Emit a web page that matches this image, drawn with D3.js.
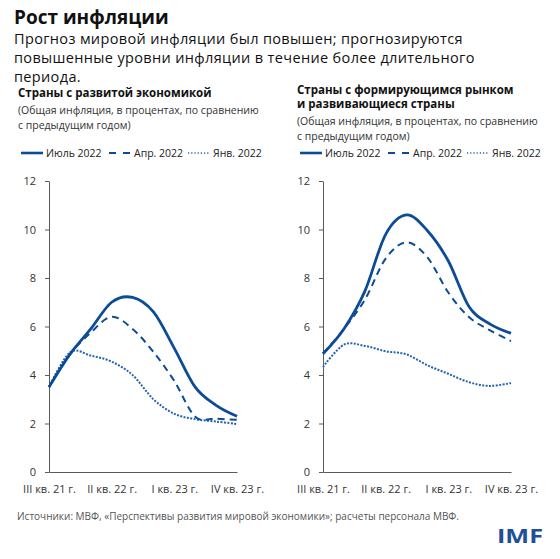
<!DOCTYPE html>
<html>
<head>
<meta charset="utf-8">
<script src="https://cdn.jsdelivr.net/npm/d3@7"></script>
<style>
  body { margin: 0; background: #fff; }
  text { font-family: "Open Sans", "Noto Sans", sans-serif; }
</style>
</head>
<body>
<div id="chart"></div>
<script>
// chart data
var quarters = ["III кв. 21 г.", "IV кв. 21 г.", "I кв. 22 г.", "II кв. 22 г.", "III кв. 22 г.",
  "IV кв. 22 г.", "I кв. 23 г.", "II кв. 23 г.", "III кв. 23 г.", "IV кв. 23 г."];
var tickIdx = [0, 3, 6, 9];
var yTicks = [0, 2, 4, 6, 8, 10, 12];
var seriesNames = ["Июль 2022", "Апр. 2022", "Янв. 2022"];

// advanced economies
var aeJul = [3.5, 4.85, 5.9, 7.0, 7.2, 6.6, 5.1, 3.5, 2.75, 2.3];
var aeApr = [3.5, 4.85, 5.75, 6.4, 5.9, 4.95, 3.75, 2.28, 2.2, 2.15];
var aeJan = [3.5, 4.93, 4.8, 4.55, 4.0, 3.0, 2.4, 2.18, 2.08, 1.98];

// emerging market and developing economies
var emJul = [4.88, 5.9, 7.45, 9.8, 10.6, 9.95, 8.7, 6.8, 6.1, 5.72];
var emApr = [4.88, 5.9, 7.1, 8.8, 9.47, 8.85, 7.4, 6.38, 5.84, 5.4];
var emJan = [4.33, 5.25, 5.2, 4.98, 4.85, 4.4, 4.05, 3.7, 3.55, 3.67];

var svgWidth = 560;
var svgHeight = 559;
var blue = "#0c4c96";

var svg = d3.select("#chart")
  .append("svg")
    .attr("width", svgWidth)
    .attr("height", svgHeight);

// headline
svg.append("text")
  .attr("x", 14).attr("y", 24)
  .attr("font-size", "19px").attr("font-weight", "bold")
  .attr("fill", "#111")
  .text("Рост инфляции");

var subLines = ["Прогноз мировой инфляции был повышен; прогнозируются",
  "повышенные уровни инфляции в течение более длительного",
  "периода."];
svg.selectAll(".sub")
  .data(subLines)
  .enter()
  .append("text")
  .attr("x", 14)
  .attr("y", (d, i) => 44 + i * 19)
  .attr("font-family", "Roboto, sans-serif")
  .attr("font-size", "14.5px")
  .attr("letter-spacing", "0.35px")
  .attr("fill", "#111")
  .text(d => d);

// one panel
function drawPanel(opts) {
  var g = svg.append("g");

  g.selectAll(".ttl")
    .data(opts.title)
    .enter()
    .append("text")
    .attr("x", opts.tx)
    .attr("y", (d, i) => opts.ty + i * 14)
    .attr("font-size", "11.5px").attr("font-weight", "bold")
    .attr("fill", "#111")
    .text(d => d);

  var noteY = opts.ty + opts.title.length * 14 + 3;
  g.selectAll(".note")
    .data(["(Общая инфляция, в процентах, по сравнению", "с предыдущим годом)"])
    .enter()
    .append("text")
    .attr("x", opts.tx)
    .attr("y", (d, i) => noteY + i * 15)
    .attr("font-size", "10.5px")
    .attr("fill", "#333")
    .text(d => d);

  // legend
  var dashes = [null, "7,7", "1.2,2"];
  var widths = [2.6, 2, 1.6];
  var legX = [opts.tx + 3, opts.tx + 91, opts.tx + 170];
  var leg = g.selectAll(".leg")
    .data(seriesNames)
    .enter()
    .append("g")
    .attr("transform", (d, i) => `translate(${legX[i]}, 153)`);
  leg.append("line")
    .attr("x1", 0).attr("x2", 22)
    .attr("stroke", (d, i) => i == 2 ? "#2463b0" : blue)
    .attr("stroke-width", (d, i) => widths[i])
    .attr("stroke-dasharray", (d, i) => dashes[i]);
  leg.append("text")
    .attr("x", 25).attr("y", 4)
    .attr("font-size", "10.5px")
    .attr("fill", "#222")
    .text(d => d);

  var x = d3.scaleLinear()
    .domain([0, quarters.length - 1])
    .range([opts.x0, opts.x1]);
  var y = d3.scaleLinear()
    .domain([0, 12])
    .range([472, 181]);

  var leftAxis = d3.axisLeft(y).tickValues(yTicks).tickSize(4).tickSizeOuter(0).tickPadding(9);
  var bottomAxis = d3.axisBottom(x).tickValues(tickIdx).tickSize(0).tickSizeOuter(0).tickPadding(13)
    .tickFormat(i => quarters[i]);

  var ya = g.append("g")
    .attr("transform", `translate(${opts.x0}, 0)`)
    .call(leftAxis);
  var xa = g.append("g")
    .attr("transform", `translate(0, 472)`)
    .call(bottomAxis);
  [ya, xa].forEach(function(a) {
    a.selectAll("path, line").attr("stroke", "#595959");
    a.selectAll("text").attr("fill", "#333").attr("font-size", "11px")
      .attr("font-family", "\"Open Sans\", sans-serif");
  });

  var line = d3.line()
    .x((d, i) => x(i))
    .y(d => y(d))
    .curve(d3.curveCatmullRom.alpha(0));

  // draw oldest forecast first so the July line sits on top
  var series = [opts.jan, opts.apr, opts.jul];
  var dash = ["2,1.4", "7,5", null];
  var sw = [2, 2, 2.8];
  var col = ["#2463b0", blue, blue];
  g.selectAll(".ln")
    .data(series)
    .enter()
    .append("path")
    .attr("d", d => line(d))
    .attr("fill", "none")
    .attr("stroke", (d, i) => col[i])
    .attr("stroke-width", (d, i) => sw[i])
    .attr("stroke-dasharray", (d, i) => dash[i]);
}

drawPanel({
  title: ["Страны с развитой экономикой"],
  tx: 18, ty: 97,
  x0: 49, x1: 237,
  jul: aeJul, apr: aeApr, jan: aeJan
});

drawPanel({
  title: ["Страны с формирующимся рынком", "и развивающиеся страны"],
  tx: 297, ty: 94,
  x0: 323, x1: 511,
  jul: emJul, apr: emApr, jan: emJan
});

// source
svg.append("text")
  .attr("x", 17).attr("y", 520)
  .attr("font-size", "10px")
  .attr("fill", "#555")
  .text("Источники: МВФ, «Перспективы развития мировой экономики»; расчеты персонала МВФ.");

svg.append("text")
  .attr("x", 497).attr("y", 543)
  .attr("textLength", 46)
  .attr("lengthAdjust", "spacingAndGlyphs")
  .attr("font-family", "\"Liberation Sans\", Arial, sans-serif")
  .attr("font-size", "20px").attr("font-weight", "bold")
  .attr("fill", "#1d4f9a")
  .text("IMF");
</script>
</body>
</html>
